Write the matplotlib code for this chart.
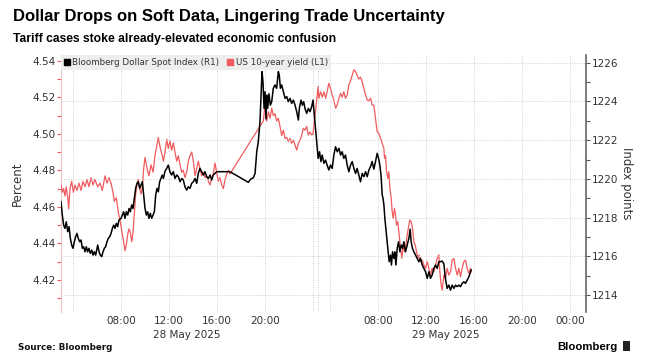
import numpy as np
import matplotlib
matplotlib.use("Agg")
import matplotlib.pyplot as plt
from matplotlib.lines import Line2D
from matplotlib.patches import FancyBboxPatch

# ─── Data (hours since 28 May 2025 00:00) ─────────────────────────────────────
yield_t = [3.0, 3.11, 3.22, 3.33, 3.44, 3.56, 3.64, 3.75, 3.89, 4.03, 4.17, 4.33, 4.5, 4.67,
           4.83, 5.0, 5.17, 5.33, 5.5, 5.67, 5.83, 6.06, 6.25, 6.44, 6.67, 6.83, 7.0, 7.17,
           7.33, 7.44, 7.61, 7.78, 7.94, 8.11, 8.22, 8.33, 8.44, 8.56, 8.67, 8.78, 8.89, 9.0,
           9.11, 9.22, 9.33, 9.44, 9.56, 9.67, 9.78, 9.89, 10.0, 10.17, 10.33, 10.5, 10.67,
           10.83, 11.0, 11.11, 11.28, 11.44, 11.53, 11.67, 11.81, 11.94, 12.08, 12.22, 12.36,
           12.5, 12.64, 12.78, 12.92, 13.06, 13.19, 13.33, 13.47, 13.61, 13.75, 13.89, 14.03,
           14.17, 14.31, 14.44, 14.58, 14.72, 14.86, 15.0, 15.14, 15.28, 15.42, 15.56, 15.69,
           15.83, 15.97, 16.11, 16.25, 16.39, 16.53, 16.67, 16.81, 16.94, 17.08,
           19.86, 20.0, 20.14, 20.28, 20.42, 20.56, 20.69, 20.83, 20.97, 21.11, 21.25, 21.39,
           21.53, 21.67, 21.81, 21.94, 22.08, 22.22, 22.36, 22.5, 22.64, 22.78, 22.92, 23.06,
           23.19, 23.33, 23.47, 23.61, 23.75, 23.89, 24.0,
           27.01, 27.07, 27.21, 27.35, 27.49, 27.63, 27.76, 27.9, 28.04, 28.18, 28.32, 28.46,
           28.6, 28.74, 28.88, 29.01, 29.15, 29.29, 29.43, 29.57, 29.71, 29.85, 29.99, 30.13,
           30.26, 30.4, 30.54, 30.68, 30.82, 30.96, 31.1, 31.24, 31.375, 31.51, 31.65, 31.79,
           31.93, 32.07, 32.21, 32.35, 32.49, 32.54, 32.625, 32.71, 32.82, 32.9, 32.99, 33.1,
           33.18, 33.26, 33.375, 33.46, 33.54, 33.65, 33.76, 33.875, 33.99, 34.1, 34.21, 34.32,
           34.43, 34.57, 34.65, 34.76, 34.875, 34.99, 35.1, 35.21, 35.32, 35.43, 35.54, 35.68,
           35.82, 35.96, 36.1, 36.24, 36.375, 36.51, 36.65, 36.79, 36.93, 37.07, 37.15, 37.26,
           37.35, 37.49, 37.625, 37.76, 37.9, 38.04, 38.18, 38.32, 38.46, 38.6, 38.74, 38.875,
           39.01, 39.15, 39.29, 39.43, 39.57, 39.71, 39.76]
yield_pct = [4.472, 4.468, 4.470, 4.466, 4.471, 4.465, 4.459, 4.470, 4.474, 4.468, 4.472, 4.469,
             4.473, 4.469, 4.474, 4.471, 4.475, 4.471, 4.476, 4.472, 4.475, 4.471, 4.473, 4.469,
             4.477, 4.473, 4.476, 4.473, 4.468, 4.463, 4.465, 4.457, 4.452, 4.445, 4.441, 4.436,
             4.439, 4.445, 4.448, 4.446, 4.441, 4.446, 4.456, 4.467, 4.472, 4.475, 4.470, 4.467,
             4.471, 4.481, 4.487, 4.481, 4.477, 4.483, 4.479, 4.488, 4.494, 4.498, 4.492, 4.488,
             4.485, 4.490, 4.497, 4.492, 4.496, 4.491, 4.495, 4.490, 4.485, 4.488, 4.483, 4.479,
             4.480, 4.476, 4.479, 4.485, 4.488, 4.490, 4.485, 4.477, 4.481, 4.485, 4.481, 4.477,
             4.479, 4.476, 4.477, 4.474, 4.472, 4.476, 4.478, 4.484, 4.479, 4.474, 4.476, 4.472,
             4.470, 4.475, 4.478, 4.480, 4.478,
             4.507, 4.516, 4.507, 4.512, 4.5085, 4.514, 4.510, 4.511, 4.507, 4.5085, 4.504, 4.499,
             4.502, 4.4975, 4.498, 4.4957, 4.4975, 4.4948, 4.4966, 4.4938, 4.4911, 4.4948, 4.4966,
             4.4993, 4.503, 4.502, 4.504, 4.4993, 4.501, 4.4993, 4.500,
             4.5258, 4.5194, 4.523, 4.520, 4.523, 4.5194, 4.523, 4.5276, 4.5249, 4.5212, 4.5185,
             4.514, 4.5157, 4.5194, 4.5221, 4.520, 4.523, 4.5194, 4.5212, 4.5267, 4.529, 4.532,
             4.535, 4.534, 4.532, 4.530, 4.531, 4.5285, 4.5249, 4.5212, 4.5185, 4.518, 4.5195,
             4.5157, 4.5157, 4.5085, 4.5011, 4.5002, 4.4975, 4.4948, 4.4920, 4.4866, 4.488,
             4.4793, 4.4756, 4.4793, 4.4701, 4.4647, 4.4574, 4.4537, 4.4592, 4.4556, 4.4501,
             4.4519, 4.4446, 4.4373, 4.4318, 4.4391, 4.4355, 4.4391, 4.4446, 4.4501, 4.4528,
             4.4519, 4.4482, 4.4410, 4.4391, 4.4355, 4.4318, 4.4337, 4.4300, 4.4309, 4.4282,
             4.4264, 4.4300, 4.4264, 4.4227, 4.4264, 4.4245, 4.4282, 4.4318, 4.4337, 4.4245,
             4.4172, 4.4145, 4.4227, 4.4209, 4.4264, 4.4227, 4.4245, 4.4309, 4.4318, 4.4264,
             4.4227, 4.4264, 4.4218, 4.4264, 4.4300, 4.4309, 4.4264, 4.4236, 4.4264, 4.4245]

dxy_t = [3.0, 3.11, 3.22, 3.33, 3.44, 3.56, 3.67, 3.78, 3.89, 4.0, 4.11, 4.22, 4.33, 4.44, 4.56,
         4.67, 4.78, 4.89, 5.0, 5.11, 5.22, 5.33, 5.44, 5.56, 5.67, 5.78, 5.89, 6.06, 6.17, 6.28,
         6.39, 6.5, 6.61, 6.72, 6.83, 6.94, 7.06, 7.17, 7.28, 7.39, 7.5, 7.61, 7.72, 7.83, 8.0,
         8.11, 8.22, 8.33, 8.44, 8.56, 8.67, 8.78, 8.89, 9.0, 9.11, 9.22, 9.33, 9.44, 9.56, 9.67,
         9.78, 9.89, 10.0, 10.11, 10.22, 10.33, 10.44, 10.56, 10.67, 10.78, 10.89, 11.0, 11.11,
         11.22, 11.33, 11.44, 11.53, 11.67, 11.81, 11.94, 12.08, 12.22, 12.36, 12.5, 12.64,
         12.78, 12.92, 13.06, 13.19, 13.33, 13.47, 13.61, 13.75, 13.89, 14.03, 14.17, 14.31,
         14.44, 14.58, 14.72, 14.86, 15.0, 15.14, 15.28, 15.42, 15.56, 15.69, 15.83, 15.97,
         17.08, 18.61, 18.81, 19.03, 19.17, 19.31, 19.44, 19.58, 19.67, 19.75, 19.83, 19.92,
         20.0, 20.08, 20.14, 20.22, 20.33, 20.44, 20.56, 20.69, 20.83, 20.97, 21.11, 21.19,
         21.28, 21.39, 21.53, 21.67, 21.81, 21.94, 22.08, 22.22, 22.36, 22.5, 22.64, 22.78,
         22.86, 23.0, 23.11, 23.22, 23.33, 23.47, 23.61, 23.75, 23.89, 24.0,
         27.01, 27.13, 27.24, 27.35, 27.49, 27.63, 27.76, 27.9, 28.04, 28.18, 28.32, 28.46,
         28.6, 28.74, 28.88, 29.01, 29.15, 29.29, 29.43, 29.57, 29.71, 29.85, 29.99, 30.13,
         30.26, 30.4, 30.54, 30.68, 30.82, 30.96, 31.1, 31.24, 31.375, 31.51, 31.65, 31.79,
         31.93, 32.07, 32.15, 32.25, 32.35, 32.42, 32.49, 32.57, 32.65, 32.76, 32.85, 32.93,
         33.04, 33.12, 33.21, 33.32, 33.4, 33.49, 33.6, 33.71, 33.82, 33.93, 34.04, 34.15,
         34.29, 34.43, 34.57, 34.68, 34.76, 34.87, 34.99, 35.125, 35.26, 35.4, 35.54, 35.68,
         35.82, 35.96, 36.1, 36.24, 36.375, 36.51, 36.65, 36.79, 36.93, 37.07, 37.21, 37.35,
         37.49, 37.6, 37.76, 37.9, 38.04, 38.18, 38.32, 38.46, 38.6, 38.74, 38.875, 39.01,
         39.15, 39.29, 39.43, 39.57, 39.71, 39.76]
dxy_idx = [1218.82, 1218.13, 1217.61, 1217.44, 1217.78, 1217.27, 1217.53, 1216.92, 1216.58,
           1216.41, 1216.75, 1217.01, 1217.18, 1216.92, 1216.75, 1216.84, 1216.41, 1216.49,
           1216.23, 1216.49, 1216.23, 1216.41, 1216.15, 1216.32, 1216.06, 1216.23, 1216.06,
           1216.58, 1216.23, 1216.06, 1215.98, 1216.23, 1216.41, 1216.49, 1216.75, 1216.92,
           1217.01, 1217.18, 1217.44, 1217.61, 1217.44, 1217.70, 1217.53, 1217.87, 1217.96,
           1218.13, 1218.30, 1217.96, 1218.30, 1218.13, 1218.47, 1218.30, 1218.65, 1218.47,
           1218.99, 1219.51, 1219.77, 1219.85, 1219.51, 1219.68, 1219.85, 1219.16, 1218.47,
           1218.13, 1218.30, 1217.96, 1218.22, 1217.96, 1218.13, 1218.30, 1219.16, 1219.51,
           1219.33, 1219.85, 1220.02, 1220.20, 1220.02, 1220.40, 1220.54, 1220.71, 1220.37,
           1220.20, 1220.37, 1220.02, 1220.20, 1220.11, 1219.85, 1220.02, 1219.94, 1219.59,
           1219.42, 1219.59, 1219.51, 1219.77, 1219.85, 1220.02, 1219.77, 1220.28, 1220.54,
           1220.37, 1220.20, 1220.37, 1220.11, 1220.02, 1220.20, 1219.94, 1220.20, 1220.28,
           1220.37, 1220.37, 1219.82, 1219.99, 1220.06, 1220.28, 1221.40, 1221.92, 1222.95,
           1224.33, 1225.54, 1225.02, 1223.64, 1224.50, 1223.10, 1224.33, 1223.64, 1224.40,
           1223.81, 1223.99, 1224.68, 1224.85, 1224.68, 1225.54, 1225.36, 1224.68, 1224.85,
           1224.50, 1224.16, 1224.25, 1223.99, 1224.16, 1223.90, 1224.07, 1223.81, 1223.47,
           1223.04, 1223.64, 1224.07, 1223.81, 1223.99, 1223.64, 1223.38, 1223.64, 1223.47,
           1223.73, 1224.07,
           1221.06, 1221.40, 1220.89, 1221.23, 1220.80, 1220.97, 1220.71, 1220.46, 1220.71,
           1220.54, 1221.23, 1221.66, 1221.40, 1221.58, 1221.23, 1221.40, 1221.06, 1221.23,
           1220.71, 1220.37, 1220.71, 1220.89, 1220.54, 1220.28, 1220.54, 1220.20, 1219.85,
           1220.28, 1220.11, 1220.37, 1220.11, 1220.46, 1220.63, 1220.90, 1220.50, 1220.89,
           1221.32, 1221.00, 1220.71, 1220.20, 1219.16, 1218.99, 1218.65, 1217.96, 1217.44,
           1216.75, 1216.23, 1215.72, 1216.06, 1215.55, 1216.23, 1215.89, 1216.23, 1215.55,
           1216.41, 1216.75, 1216.23, 1216.58, 1216.41, 1216.75, 1216.23, 1216.58, 1216.92,
           1217.40, 1216.75, 1216.41, 1216.23, 1216.06, 1215.89, 1215.72, 1215.89, 1215.55,
           1215.37, 1215.20, 1214.86, 1215.20, 1214.86, 1215.03, 1215.37, 1215.55, 1215.37,
           1215.72, 1215.72, 1215.75, 1215.60, 1214.90, 1214.34, 1214.51, 1214.25, 1214.51,
           1214.34, 1214.51, 1214.43, 1214.51, 1214.43, 1214.60, 1214.68, 1214.60, 1214.77,
           1214.94, 1215.20, 1215.29]

tick_hours = [4, 8, 12, 16, 20, 24, 27, 28, 32, 36, 40, 44, 48]
tick_labels = ["", "08:00", "12:00", "16:00", "20:00", "", "", "",
               "08:00", "12:00", "16:00", "20:00", "00:00"]
date_hours = [13.5, 37.67]
date_labels = ["28 May 2025", "29 May 2025"]

# ─── Style ────────────────────────────────────────────────────────────────────
BLACK = "#000000"
RED = "#ef5b5e"
GRID = "#cfcfcf"
TXT = "#333333"
plt.rcParams["font.family"] = "DejaVu Sans"

# overnight hours 00:00-03:00 on 29 May are squeezed into a narrow break
GAP = 5 / 12


def fwd(t):
    t = np.asarray(t, dtype=float)
    return np.where(t <= 24, t, np.where(t <= 27, 24 + (t - 24) * GAP / 3, t - 3 + GAP))


def inv(u):
    u = np.asarray(u, dtype=float)
    return np.where(u <= 24, u, np.where(u <= 24 + GAP, 24 + (u - 24) * 3 / GAP, u + 3 - GAP))


fig = plt.figure(figsize=(6.49, 3.59), dpi=100)
fig.patch.set_facecolor("white")
ax1 = fig.add_axes([61 / 649, 1 - 312 / 359, (586 - 61) / 649, (312 - 55) / 359])
ax1.set_xscale("function", functions=(fwd, inv))
ax2 = ax1.twinx()

ax1.plot(yield_t, yield_pct, color=RED, lw=0.9, zorder=3)
ax2.plot(dxy_t, dxy_idx, color=BLACK, lw=1.1, zorder=3)

ax1.set_xlim(3, 49.33)
ax1.set_ylim(4.4025, 4.5431)
ax2.set_ylim(1213.12, 1226.40)

ax1.set_xticks(tick_hours)
ax1.set_xticklabels(tick_labels, fontsize=7.5, color=TXT)
ax1.xaxis.set_minor_locator(matplotlib.ticker.NullLocator())
ax1.tick_params(axis="x", length=0, pad=3)
ax1.grid(True, axis="x", color=GRID, ls=(0, (1, 1.5)), lw=0.7)
for h, lab in zip(date_hours, date_labels):
    ax1.annotate(lab, xy=(h, 0), xycoords=("data", "axes fraction"), xytext=(0, -13),
                 textcoords="offset points", ha="center", va="top", fontsize=7.5, color=TXT)

ax1.set_yticks(np.arange(4.42, 4.541, 0.02))
ax1.set_yticklabels([f"{v:.2f}" for v in np.arange(4.42, 4.541, 0.02)], fontsize=7.5, color=TXT)
ax1.set_yticks(np.arange(4.41, 4.545, 0.01), minor=True)
ax1.tick_params(axis="y", which="both", color=RED, length=3, width=0.8, pad=1)
ax1.set_ylabel("Percent", fontsize=8.5, color=TXT, labelpad=6)

ax2.set_yticks(np.arange(1214, 1227, 2))
ax2.set_yticklabels([str(v) for v in range(1214, 1227, 2)], fontsize=7.5, color=TXT)
ax2.set_yticks(np.arange(1214, 1227, 1), minor=True)
ax2.tick_params(axis="y", which="both", color="#555555", length=3, width=0.8, pad=1.5)
ax2.grid(True, axis="y", color=GRID, ls=(0, (1, 1.5)), lw=0.7, zorder=0)
ax2.set_ylabel("Index points", fontsize=8.5, color=TXT, rotation=270, labelpad=10)

for a in (ax1, ax2):
    for s in a.spines.values():
        s.set_visible(False)
ax1.spines["left"].set_visible(True)
ax1.spines["left"].set_color("#f3c3c3")
ax2.spines["right"].set_visible(True)
ax2.spines["right"].set_color("#666666")
ax2.spines["right"].set_linewidth(1.2)

# legend strip
handles = [Line2D([], [], ls="", marker="s", ms=4.5, color=BLACK),
           Line2D([], [], ls="", marker="s", ms=4.5, color=RED)]
leg = ax2.legend(handles, ["Bloomberg Dollar Spot Index (R1)", "US 10-year yield (L1)"],
                 loc="upper left", bbox_to_anchor=(0, 1), ncol=2, fontsize=6.3,
                 frameon=True, fancybox=False, borderaxespad=0, handlelength=0.6,
                 handletextpad=0.3, columnspacing=1.0, borderpad=0.35)
leg.get_frame().set_facecolor("#eeeeee")
leg.get_frame().set_edgecolor("none")
leg.get_frame().set_alpha(1)
for t in leg.get_texts():
    t.set_color(TXT)

# ─── Titles and footer ───────────────────────────────────────────────────────
fig.text(13 / 649, 1 - 21.5 / 359, "Dollar Drops on Soft Data, Lingering Trade Uncertainty",
         fontsize=12, fontweight="bold", va="baseline", family="Liberation Sans")
fig.text(13 / 649, 1 - 42 / 359, "Tariff cases stoke already-elevated economic confusion",
         fontsize=8.7, fontweight="bold", va="baseline", family="Liberation Sans")
fig.text(18 / 649, 1 - 350 / 359, "Source: Bloomberg", fontsize=6.3, fontweight="bold",
         va="baseline", color="#111111")
fig.text(617 / 649, 1 - 350 / 359, "Bloomberg", fontsize=8.2, fontweight="bold",
         va="baseline", ha="right", family="Liberation Sans")
fig.patches.append(FancyBboxPatch((623 / 649, 1 - 351 / 359), 7 / 649, 10 / 359,
                                  boxstyle="square,pad=0", transform=fig.transFigure,
                                  facecolor="#222222", edgecolor="none"))

fig.savefig("out.png", dpi=100)
